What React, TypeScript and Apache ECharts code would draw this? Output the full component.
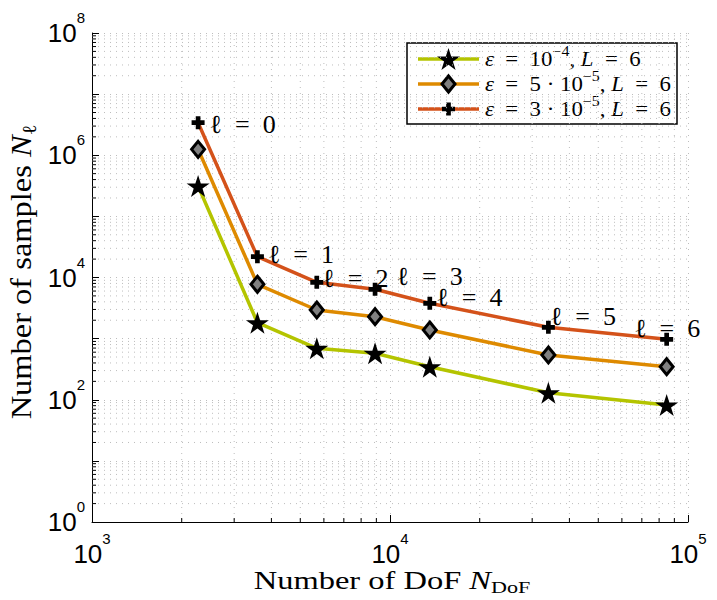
import React, { useEffect, useRef } from 'react';
import * as echarts from 'echarts';

// Degrees of freedom on each level ℓ = 0..6
const dof = [2270, 3590, 5680, 8910, 13600, 34000, 84800];
const levels = [0, 1, 2, 3, 4, 5, 6];

// Number of samples per level for the three tolerances
const samplesEps1e4 = [314000, 1820, 695, 576, 347, 130, 82];
const samplesEps5e5 = [1250000, 7740, 2940, 2285, 1384, 540, 347];
const samplesEps3e5 = [3410000, 21900, 8340, 6410, 3785, 1532, 975];

// Axis ranges (powers of ten)
const xExpRange = [3, 5];
const yExpRange = [0, 8];

// Where each "ℓ = k" annotation sits relative to its marker (px)
const levelLabelOffset = [[5, 2], [4, -2], [-1, -4], [15, -13], [0, -6], [-5, -11], [-39, -11]];

const COLORS = { eps1e4: '#b4c400', eps5e5: '#de8a00', eps3e5: '#d4521a' };

const SERIF = 'Liberation Serif';
const SANS = 'Liberation Sans';

function starPath(): string {
  const pts: string[] = [];
  for (let i = 0; i < 10; i++) {
    const r = i % 2 === 0 ? 50 : 50 * 0.382;
    const a = -Math.PI / 2 + (i * Math.PI) / 5;
    pts.push(`${(50 + r * Math.cos(a)).toFixed(2)},${(50 + r * Math.sin(a)).toFixed(2)}`);
  }
  return 'M' + pts.join('L') + 'Z';
}
const STAR = starPath();
const PLUS = 'M32,0H68V32H100V68H68V100H32V68H0V32H32Z';

echarts.graphic.registerShape('starMark', echarts.graphic.extendPath(STAR, {}));
echarts.graphic.registerShape('plusMark', echarts.graphic.extendPath(PLUS, {}));

function minorValues(e0: number, e1: number): number[] {
  const out: number[] = [];
  for (let e = e0; e < e1; e++) {
    for (let m = 2; m <= 9; m++) out.push(m * Math.pow(10, e));
  }
  return out;
}

const tickRich = {
  b: { fontFamily: SANS, fontSize: 26, lineHeight: 46, color: '#000' },
  s: { fontFamily: SANS, fontSize: 15, lineHeight: 15, verticalAlign: 'top', color: '#000' },
};

const legendRich = {
  i: { fontFamily: SERIF, fontStyle: 'italic', fontSize: 20, color: '#000' },
  s: { fontFamily: SERIF, fontSize: 14, lineHeight: 13, verticalAlign: 'top', color: '#000' },
};

const legendRows = [
  { color: COLORS.eps1e4, text: '{i|ε}\u2002=\u200210{s|\u22124}, {i|L}\u2002=\u20026', mark: 'star' },
  { color: COLORS.eps5e5, text: '{i|ε}\u2002=\u20025 · 10{s|\u22125}, {i|L}\u2002=\u20026', mark: 'diamond' },
  { color: COLORS.eps3e5, text: '{i|ε}\u2002=\u20023 · 10{s|\u22125}, {i|L}\u2002=\u20026', mark: 'plus' },
];

const GRID_COLOR = '#bdbdbd';
const GRID_DASH = [1, 5];

export default function App() {
  const ref = useRef<HTMLDivElement>(null);

  useEffect(() => {
    if (!ref.current) return;
    const chart = echarts.init(ref.current, undefined, { renderer: 'svg' });

    const gridLine = { color: GRID_COLOR, width: 1, type: GRID_DASH as any };

    const minorX = minorValues(xExpRange[0], xExpRange[1]);
    const minorY = minorValues(yExpRange[0], yExpRange[1]);

    // legend drawn as a boxed group
    const lx = 407, ly = 43, lw = 270, lh = 81;
    const rowY = [59, 84, 109];
    const legendChildren: any[] = [
      { type: 'rect', shape: { x: lx, y: ly, width: lw, height: lh }, style: { fill: '#fff', stroke: '#000', lineWidth: 1.5 } },
    ];
    legendRows.forEach((row, k) => {
      const cy = rowY[k];
      const cx = 448.5;
      legendChildren.push({ type: 'line', shape: { x1: 418, y1: cy, x2: 479, y2: cy }, style: { stroke: row.color, lineWidth: 3.5 } });
      if (row.mark === 'star') {
        const s = 0.242;
        legendChildren.push({ type: 'starMark', x: cx - 50 * s, y: cy - 45.2 * s, scaleX: s, scaleY: s, style: { fill: '#000' } });
      } else if (row.mark === 'diamond') {
        legendChildren.push({ type: 'polygon', shape: { points: [[cx, cy - 8], [cx + 6.5, cy], [cx, cy + 8], [cx - 6.5, cy]] }, style: { fill: '#808080', stroke: '#000', lineWidth: 3 } });
      } else {
        const s = 0.13;
        legendChildren.push({ type: 'plusMark', x: cx - 50 * s, y: cy - 50 * s, scaleX: s, scaleY: s, style: { fill: '#000' } });
      }
      legendChildren.push({
        type: 'text', x: 485, y: cy, scaleX: 1.14, scaleY: 1,
        style: { text: row.text, x: 0, y: 0, fontFamily: SERIF, fontSize: 20, lineHeight: 30, fill: '#000', verticalAlign: 'middle', align: 'left', rich: legendRich },
      });
    });

    const mainSeries = (name: string, values: number[], color: string, symbol: string, size: any, itemStyle: any, z: number) => ({
      name,
      type: 'line',
      data: dof.map((x, i) => [x, values[i]]),
      symbol,
      symbolSize: size,
      showSymbol: true,
      itemStyle,
      lineStyle: { color, width: 3.5 },
      z,
    });

    const redSeries: any = mainSeries('ε = 3·10⁻⁵', samplesEps3e5, COLORS.eps3e5, 'path://' + PLUS, 13, { color: '#000' }, 5);
    redSeries.data = dof.map((x, i) => ({
      value: [x, samplesEps3e5[i]],
      label: {
        show: true,
        position: 'right',
        distance: 0,
        offset: levelLabelOffset[i],
        formatter: `ℓ\u2002=\u2002${levels[i]}`,
        fontFamily: SERIF,
        fontSize: 26,
        lineHeight: 18,
        color: '#000',
      },
    }));

    const option: any = {
      animation: false,
      backgroundColor: '#fff',
      grid: { left: 92, right: 29, top: 33, bottom: 78, containLabel: false },
      xAxis: {
        type: 'log', logBase: 10,
        min: Math.pow(10, xExpRange[0]), max: Math.pow(10, xExpRange[1]),
        axisLine: { onZero: false, lineStyle: { color: '#000', width: 1 } },
        axisTick: { inside: true, length: 7, lineStyle: { color: '#000' } },
        splitLine: { show: true, lineStyle: gridLine },
        minorTick: { show: false }, minorSplitLine: { show: false },
        axisLabel: {
          margin: 9,
          formatter: (v: number) => `{b|10}{s|${Math.round(Math.log10(v))}}`,
          rich: tickRich,
        },
      },
      yAxis: {
        type: 'log', logBase: 10,
        min: Math.pow(10, yExpRange[0]), max: Math.pow(10, yExpRange[1]),
        splitNumber: 8,
        axisLine: { show: true, onZero: false, lineStyle: { color: '#000', width: 1 } },
        axisTick: { show: true, inside: true, length: 7, lineStyle: { color: '#000' } },
        splitLine: { show: true, lineStyle: gridLine },
        minorTick: { show: false }, minorSplitLine: { show: false },
        axisLabel: {
          margin: 7,
          formatter: (v: number) => {
            const e = Math.round(Math.log10(v));
            return e % 2 === 0 ? `{b|10}{s|${e}}` : '';
          },
          rich: tickRich,
        },
      },
      series: [
        {
          type: 'custom',
          silent: true,
          z: 1,
          data: minorX.map((v) => [v, 1]),
          renderItem: (params: any, api: any) => {
            const cs = params.coordSys;
            const p = api.coord([api.value(0), api.value(1)]);
            const bottom = cs.y + cs.height;
            return {
              type: 'group',
              children: [
                { type: 'line', shape: { x1: p[0], y1: cs.y, x2: p[0], y2: bottom }, style: { stroke: GRID_COLOR, lineWidth: 1, lineDash: GRID_DASH } },
                { type: 'line', shape: { x1: p[0], y1: bottom, x2: p[0], y2: bottom - 4 }, style: { stroke: '#000', lineWidth: 1 } },
              ],
            };
          },
        },
        {
          type: 'custom',
          silent: true,
          z: 1,
          data: minorY.map((v) => [Math.pow(10, xExpRange[0]), v]),
          renderItem: (params: any, api: any) => {
            const cs = params.coordSys;
            const p = api.coord([api.value(0), api.value(1)]);
            return {
              type: 'group',
              children: [
                { type: 'line', shape: { x1: cs.x, y1: p[1], x2: cs.x + cs.width, y2: p[1] }, style: { stroke: GRID_COLOR, lineWidth: 1, lineDash: GRID_DASH } },
                { type: 'line', shape: { x1: cs.x, y1: p[1], x2: cs.x + 4, y2: p[1] }, style: { stroke: '#000', lineWidth: 1 } },
              ],
            };
          },
        },
        mainSeries('ε = 10⁻⁴', samplesEps1e4, COLORS.eps1e4, 'path://' + STAR, [23, 22], { color: '#000' }, 3),
        mainSeries('ε = 5·10⁻⁵', samplesEps5e5, COLORS.eps5e5, 'diamond', [13, 16], { color: '#808080', borderColor: '#000', borderWidth: 3 }, 4),
        redSeries,
      ],
      graphic: [
        {
          type: 'text', x: 392, y: 580, scaleX: 1.3, scaleY: 1,
          style: {
            text: 'Number of DoF {i|N}{sub|DoF}', x: 0, y: 0, align: 'center', verticalAlign: 'middle',
            fontFamily: SERIF, fontSize: 25, lineHeight: 30, fill: '#000',
            rich: {
              i: { fontFamily: SERIF, fontStyle: 'italic', fontSize: 25, color: '#000' },
              sub: { fontFamily: SERIF, fontSize: 17, lineHeight: 16, verticalAlign: 'bottom', color: '#000' },
            },
          },
        },
        {
          type: 'text', x: 22, y: 272, rotation: Math.PI / 2, scaleX: 1.12, scaleY: 1,
          style: {
            text: 'Number of samples {i|N}{sub|ℓ}', x: 0, y: 0, align: 'center', verticalAlign: 'middle',
            fontFamily: SERIF, fontSize: 29, lineHeight: 34, fill: '#000',
            rich: {
              i: { fontFamily: SERIF, fontStyle: 'italic', fontSize: 29, color: '#000' },
              sub: { fontFamily: SERIF, fontSize: 20, lineHeight: 18, verticalAlign: 'bottom', color: '#000' },
            },
          },
        },
        { type: 'group', children: legendChildren, z: 100 },
      ],
    };

    chart.setOption(option);
    return () => chart.dispose();
  }, []);

  return <div ref={ref} style={{ position: 'absolute', left: 0, top: 0, width: 717, height: 600, background: '#fff' }} />;
}
